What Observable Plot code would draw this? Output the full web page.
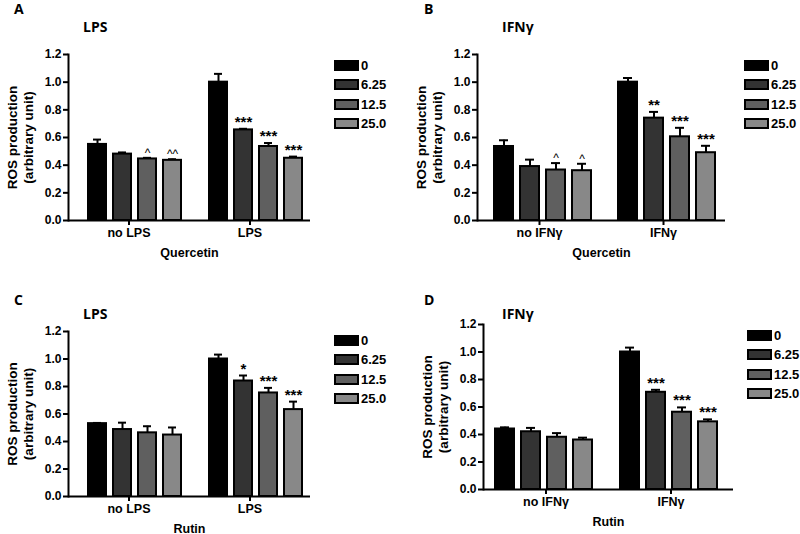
<!DOCTYPE html>
<html><head><meta charset="utf-8">
<script src="https://cdn.jsdelivr.net/npm/d3@7"></script>
<script src="https://cdn.jsdelivr.net/npm/@observablehq/plot@0.6"></script>
<style>
body{margin:0;background:#fff;}
#root{position:relative;width:800px;height:534px;overflow:hidden;background:#fff;font-family:"Liberation Sans",Arial,sans-serif;color:#000;}
.panel{position:absolute;}
.letter,.title{position:absolute;font-family:"Open Sans",sans-serif;font-weight:700;font-size:14px;line-height:16px;white-space:nowrap;}
.leg{position:absolute;display:flex;align-items:center;font-weight:700;font-size:13px;white-space:nowrap;}
.sw{box-sizing:border-box;width:25px;height:11px;border:2px solid #000;margin-right:2px;}
</style></head><body><div id="root"></div>
<script>
// ---- data ----
const doses = ["0", "6.25", "12.5", "25.0"];
const doseColors = ["#000000", "#333333", "#5f5f5f", "#888888"];
const lpsGroups = ["no LPS", "LPS"];
const ifnGroups = ["no IFNγ", "IFNγ"];
const yTicks = [0, 0.2, 0.4, 0.6, 0.8, 1.0, 1.2];

// Panel A: Quercetin, LPS
const aMean = [0.55, 0.48, 0.445, 0.435, 1.0, 0.655, 0.535, 0.45];
const aSem  = [0.035, 0.012, 0.008, 0.008, 0.06, 0.008, 0.025, 0.012];
const aSig  = ["", "", "^", "^^", "", "***", "***", "***"];
// Panel B: Quercetin, IFNγ
const bMean = [0.535, 0.39, 0.365, 0.36, 1.0, 0.74, 0.605, 0.49];
const bSem  = [0.045, 0.05, 0.05, 0.05, 0.03, 0.045, 0.065, 0.05];
const bSig  = ["", "", "^", "^", "", "**", "***", "***"];
// Panel C: Rutin, LPS
const cMean = [0.53, 0.487, 0.463, 0.447, 1.0, 0.84, 0.753, 0.632];
const cSem  = [0.005, 0.05, 0.048, 0.055, 0.032, 0.04, 0.037, 0.058];
const cSig  = ["", "", "", "", "", "*", "***", "***"];
// Panel D: Rutin, IFNγ
const dMean = [0.44, 0.42, 0.38, 0.36, 1.0, 0.707, 0.562, 0.492];
const dSem  = [0.012, 0.028, 0.03, 0.017, 0.032, 0.018, 0.035, 0.018];
const dSig  = ["", "", "", "", "", "***", "***", "***"];

const yLabel = "ROS production\n(arbitrary unit)";

// ---- layout ----
const panels = [
  {letter:"A", title:"LPS", xlabel:"Quercetin", groups:lpsGroups, mean:aMean, sem:aSem, sig:aSig,
   left:0, top:40, mt:14, mb:40, frameH:166, ml:67, mr:90, align:0.72, lx:334, ly:60, ty:19, lety:1},
  {letter:"B", title:"IFNγ", xlabel:"Quercetin", groups:ifnGroups, mean:bMean, sem:bSem, sig:bSig,
   left:400, top:40, mt:14, mb:40, frameH:166, ml:77, mr:75, align:0.64, lx:744, ly:60, ty:19, lety:1},
  {letter:"C", title:"LPS", xlabel:"Rutin", groups:lpsGroups, mean:cMean, sem:cSem, sig:cSig,
   left:0, top:310, mt:21, mb:38, frameH:165, ml:67, mr:90, align:0.72, lx:334, ly:335, ty:306, lety:292},
  {letter:"D", title:"IFNγ", xlabel:"Rutin", groups:ifnGroups, mean:dMean, sem:dSem, sig:dSig,
   left:400, top:300, mt:24, mb:45, frameH:165, ml:83, mr:67, align:0.43, lx:747, ly:330, ty:306, lety:292}
];

const root = document.getElementById("root");

for (const p of panels) {
  const rows = [];
  p.groups.forEach((g, gi) => doses.forEach((d, di) => {
    const i = gi * doses.length + di;
    rows.push({group: g, dose: d, mean: p.mean[i], sem: p.sem[i], sig: p.sig[i]});
  }));
  const stars = rows.filter(d => d.sig.includes("*"));
  const carets = rows.filter(d => d.sig.includes("^"));
  const chart = Plot.plot({
    width: 400,
    height: p.mt + p.frameH + p.mb,
    marginLeft: p.ml, marginRight: p.mr, marginTop: p.mt, marginBottom: p.mb,
    style: {fontFamily: "'Liberation Sans', Arial, sans-serif", fontWeight: "bold", fontSize: "12px", color: "#000", background: "transparent", overflow: "visible"},
    fx: {domain: p.groups, padding: 0},
    x: {domain: doses, paddingInner: 0.28, paddingOuter: 0.48, align: p.align, axis: null},
    y: {domain: [0, 1.2]},
    color: {domain: doses, range: doseColors},
    marks: [
      Plot.ruleX(rows, {fx: "group", x: "dose", y1: "mean", y2: d => d.mean + d.sem, stroke: "#000", strokeWidth: 2}),
      Plot.tickY(rows, {fx: "group", x: "dose", y: d => d.mean + d.sem, stroke: "#000", strokeWidth: 2, insetLeft: 5, insetRight: 5}),
      Plot.barY(rows, {fx: "group", x: "dose", y: "mean", fill: "dose", stroke: "#000", strokeWidth: 2}),
      Plot.text(stars, {fx: "group", x: "dose", y: d => d.mean + d.sem, text: "sig", lineAnchor: "bottom", dy: -2, fontSize: 15, fontWeight: "bold"}),
      Plot.text(carets, {fx: "group", x: "dose", y: d => d.mean + d.sem, text: "sig", lineAnchor: "bottom", dy: -1, fontSize: 12, fontWeight: "normal"}),
      Plot.ruleY([0], {stroke: "#000", strokeWidth: 2}),
      Plot.frame({anchor: "left", facetAnchor: "left", stroke: "#000", strokeWidth: 2}),
      Plot.axisY({ticks: yTicks, tickFormat: d3.format(".1f"), tickSize: 5, tickPadding: 2, label: null, strokeWidth: 2, fontSize: 12}),
      Plot.axisFx({anchor: "bottom", tickSize: 5, tickPadding: 3, strokeWidth: 2, fontSize: 12.5, label: p.xlabel, labelAnchor: "center", labelOffset: 36}),
      Plot.text([yLabel], {frameAnchor: "left", facetAnchor: "left", text: d => d, rotate: -90, dx: -49, textAnchor: "middle", lineAnchor: "middle", lineHeight: 1.2, fontSize: 13.5, fontWeight: "bold"})
    ]
  });
  chart.classList.add("panel");
  chart.style.left = p.left + "px";
  chart.style.top = p.top + "px";
  root.appendChild(chart);

  const letter = document.createElement("div");
  letter.className = "letter";
  letter.textContent = p.letter;
  letter.style.left = (p.left + (p.left ? 24 : 14)) + "px";
  letter.style.top = p.lety + "px";
  root.appendChild(letter);

  const title = document.createElement("div");
  title.className = "title";
  title.textContent = p.title;
  title.style.left = (p.left + (p.left ? 102 : 83)) + "px";
  title.style.top = p.ty + "px";
  root.appendChild(title);

  doses.forEach((d, i) => {
    const row = document.createElement("div");
    row.className = "leg";
    row.style.left = p.lx + "px";
    row.style.top = (p.ly + i * 19.3 - 2) + "px";
    row.style.height = "15px";
    const sw = document.createElement("div");
    sw.className = "sw";
    sw.style.background = doseColors[i];
    row.appendChild(sw);
    const t = document.createElement("span");
    t.textContent = d;
    row.appendChild(t);
    root.appendChild(row);
  });
}
</script>
</body></html>
